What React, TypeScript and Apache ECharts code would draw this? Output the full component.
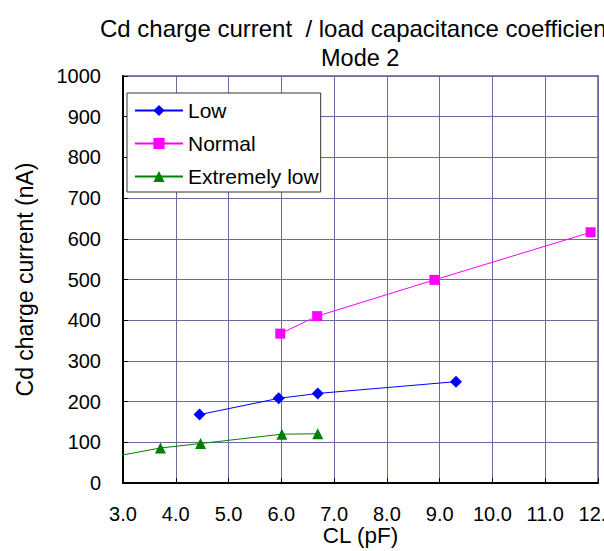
import React, { useEffect, useRef } from "react";
import * as echarts from "echarts";

const titleLine1 = "Cd charge current  / load capacitance coefficient";
const titleLine2 = "Mode 2";
const xName = "CL (pF)";
const yName = "Cd charge current (nA)";

const lowData: [number, number][] = [
  [4.45, 168],
  [5.95, 208],
  [6.69, 220],
  [9.31, 249],
];
const normalData: [number, number][] = [
  [5.98, 367],
  [6.68, 410],
  [8.9, 499],
  [11.86, 616],
];
const extremelyLowData: [number, number][] = [
  [2.5, 57],
  [3.71, 86],
  [4.47, 97],
  [6.01, 120],
  [6.69, 121],
];

const FONT = "'Liberation Sans', Arial, sans-serif";

export default function App() {
  const ref = useRef<HTMLDivElement>(null);
  useEffect(() => {
    if (!ref.current) return;
    const chart = echarts.init(ref.current, undefined, { renderer: "svg" });
    chart.setOption({
      animation: false,
      backgroundColor: "#fff",
      textStyle: { fontFamily: FONT, color: "#000" },
      title: [
        {
          text: titleLine1,
          left: 100,
          top: 16,
          padding: 0,
          textStyle: { fontSize: 24, fontWeight: "normal", color: "#000", fontFamily: FONT },
        },
        {
          text: titleLine2,
          left: 321,
          top: 46,
          padding: 0,
          textStyle: { fontSize: 23.5, fontWeight: "normal", color: "#000", fontFamily: FONT },
        },
      ],
      grid: {
        left: 123,
        top: 76,
        right: 6,
        bottom: 68,
        outerBoundsMode: "none",
        containLabel: false,
        show: true,
        borderColor: "#888",
        borderWidth: 2,
        backgroundColor: "#fff",
      },
      legend: {
        orient: "vertical",
        left: 127,
        top: 93,
        padding: [7, 2, 5, 7],
        itemWidth: 48,
        itemHeight: 14,
        itemGap: 12,
        backgroundColor: "#fff",
        borderColor: "#333",
        borderWidth: 1,
        textStyle: { fontSize: 21, color: "#000", fontFamily: FONT },
        data: ["Low", "Normal", "Extremely low"],
      },
      xAxis: {
        type: "value",
        min: 3,
        max: 12,
        interval: 1,
        name: xName,
        nameLocation: "middle",
        nameGap: 41,
        nameMoveOverlap: false,
        nameTextStyle: { fontSize: 22.5, color: "#000", fontFamily: FONT },
        axisLine: { show: true, onZero: false, lineStyle: { color: "#000", width: 2 } },
        axisTick: { show: true, inside: true, length: 5, lineStyle: { color: "#000" } },
        axisLabel: {
          fontSize: 20,
          color: "#000",
          margin: 21,
          fontFamily: FONT,
          formatter: (v: number) => v.toFixed(1),
        },
        splitLine: { show: true, lineStyle: { color: "#6b6b9b", width: 1 } },
      },
      yAxis: {
        type: "value",
        min: 0,
        max: 1000,
        interval: 100,
        name: yName,
        nameLocation: "middle",
        nameGap: 87,
        nameMoveOverlap: false,
        nameTextStyle: { fontSize: 23, color: "#000", fontFamily: FONT },
        axisLine: { show: true, onZero: false, lineStyle: { color: "#000", width: 2 } },
        axisTick: { show: true, inside: true, length: 5, lineStyle: { color: "#000" } },
        axisLabel: {
          fontSize: 20,
          color: "#000",
          margin: 22,
          fontFamily: FONT,
          formatter: (v: number) => String(v),
        },
        splitLine: { show: true, lineStyle: { color: "#6b6b9b", width: 1 } },
      },
      series: [
        {
          name: "Low",
          type: "line",
          data: lowData,
          symbol: "diamond",
          symbolSize: 12,
          itemStyle: { color: "#0000ff" },
          lineStyle: { color: "#0000ff", width: 1 },
          clip: true,
        },
        {
          name: "Normal",
          type: "line",
          data: normalData,
          symbol: "rect",
          symbolSize: 10,
          itemStyle: { color: "#ff00ff" },
          lineStyle: { color: "#ff00ff", width: 1 },
          clip: true,
        },
        {
          name: "Extremely low",
          type: "line",
          data: extremelyLowData,
          symbol: "triangle",
          symbolSize: 11,
          itemStyle: { color: "#008000" },
          lineStyle: { color: "#008000", width: 1 },
          clip: true,
        },
      ],
    });
    return () => chart.dispose();
  }, []);
  return <div ref={ref} style={{ width: 604, height: 551, position: "absolute", left: 0, top: 0 }} />;
}
